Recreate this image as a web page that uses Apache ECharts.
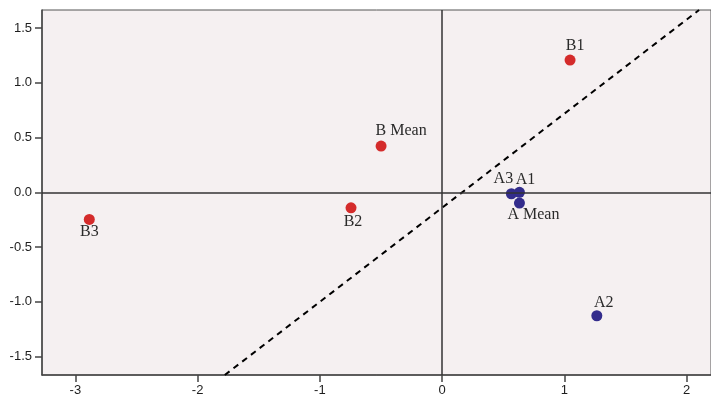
<!DOCTYPE html>
<html>
<head>
<meta charset="utf-8">
<script src="https://cdn.jsdelivr.net/npm/echarts@6/dist/echarts.min.js"></script>
<style>
  html, body { margin: 0; padding: 0; background: #fff; }
  #chart { width: 711px; height: 401px; }
</style>
</head>
<body>
<div id="chart"></div>
<script>
// Group B points (red)
const groupBNames = ['B1', 'B Mean', 'B2', 'B3'];
const groupBX = [1.047, -0.499, -0.745, -2.886];
const groupBY = [1.208, 0.422, -0.141, -0.247];

// Group A points (blue)
const groupANames = ['A3', 'A1', 'A Mean', 'A2'];
const groupAX = [0.567, 0.633, 0.633, 1.266];
const groupAY = [-0.013, 0.0, -0.098, -1.127];

// Dashed reference line: y = slope * x + intercept
const refSlope = 0.859;
const refIntercept = -0.141;

// Axis ranges and tick labels
const xRange = [-3.273, 2.2];
const yRange = [-1.668, 1.665];
const xTicks = [-3, -2, -1, 0, 1, 2];
const yTicks = [-1.5, -1.0, -0.5, 0.0, 0.5, 1.0, 1.5];

// Label offsets (px) relative to each marker centre
const labelOffsets = {
  'B1': [5, -14], 'B Mean': [20, -15], 'B2': [2, 14], 'B3': [0, 12],
  'A3': [-8, -15], 'A1': [6, -13], 'A Mean': [14, 12], 'A2': [7, -13]
};

function points(names, xs, ys) {
  return names.map((n, i) => ({
    name: n,
    value: [xs[i], ys[i]],
    label: { offset: labelOffsets[n] }
  }));
}

const yAt = x => refSlope * x + refIntercept;
const refX0 = (yRange[0] - refIntercept) / refSlope;
const refX1 = (yRange[1] - refIntercept) / refSlope;

const pointLabel = {
  show: true,
  position: 'inside',
  formatter: p => p.name,
  fontFamily: '"Liberation Serif", "Times New Roman", serif',
  fontSize: 16,
  color: '#2a2a2a'
};

const tickFont = {
  fontFamily: '"Liberation Sans", Arial, sans-serif',
  fontSize: 13,
  color: '#1e1e1e'
};

const chart = echarts.init(document.getElementById('chart'), null, { renderer: 'canvas' });
chart.setOption({
  animation: false,
  backgroundColor: '#ffffff',
  grid: {
    left: 42, top: 10, right: -3, bottom: 26,
    show: true,
    backgroundColor: '#f5f0f1',
    borderColor: '#555',
    borderWidth: 1
  },
  xAxis: {
    type: 'value',
    min: xRange[0], max: xRange[1],
    splitLine: { show: false },
    axisLine: { show: true, onZero: false, lineStyle: { color: '#444', width: 1.5 } },
    axisTick: { show: true, length: 7, customValues: xTicks, lineStyle: { color: '#444', width: 1.5 } },
    axisLabel: Object.assign({
      customValues: xTicks, margin: 9,
      formatter: v => String(v)
    }, tickFont)
  },
  yAxis: {
    type: 'value',
    min: yRange[0], max: yRange[1],
    splitLine: { show: false },
    axisLine: { show: true, onZero: false, lineStyle: { color: '#444', width: 1.5 } },
    axisTick: { show: true, length: 7, customValues: yTicks, lineStyle: { color: '#444', width: 1.5 } },
    axisLabel: Object.assign({
      customValues: yTicks, margin: 10,
      formatter: v => v.toFixed(1)
    }, tickFont)
  },
  series: [
    {
      type: 'line',
      data: [[refX0, yAt(refX0)], [refX1, yAt(refX1)]],
      symbol: 'none',
      silent: true,
      z: 1,
      lineStyle: { color: '#000', width: 2, type: [6, 5] },
      markLine: {
        silent: true,
        symbol: 'none',
        label: { show: false },
        lineStyle: { color: '#333', width: 1.5, type: 'solid' },
        data: [{ xAxis: 0 }, { yAxis: 0 }]
      }
    },
    {
      type: 'scatter',
      name: 'B',
      symbolSize: 11,
      z: 3,
      itemStyle: { color: '#d42b2b', opacity: 1 },
      label: pointLabel,
      data: points(groupBNames, groupBX, groupBY)
    },
    {
      type: 'scatter',
      name: 'A',
      symbolSize: 11,
      z: 3,
      itemStyle: { color: '#332c8c', opacity: 1 },
      label: pointLabel,
      data: points(groupANames, groupAX, groupAY)
    }
  ]
});
</script>
</body>
</html>
